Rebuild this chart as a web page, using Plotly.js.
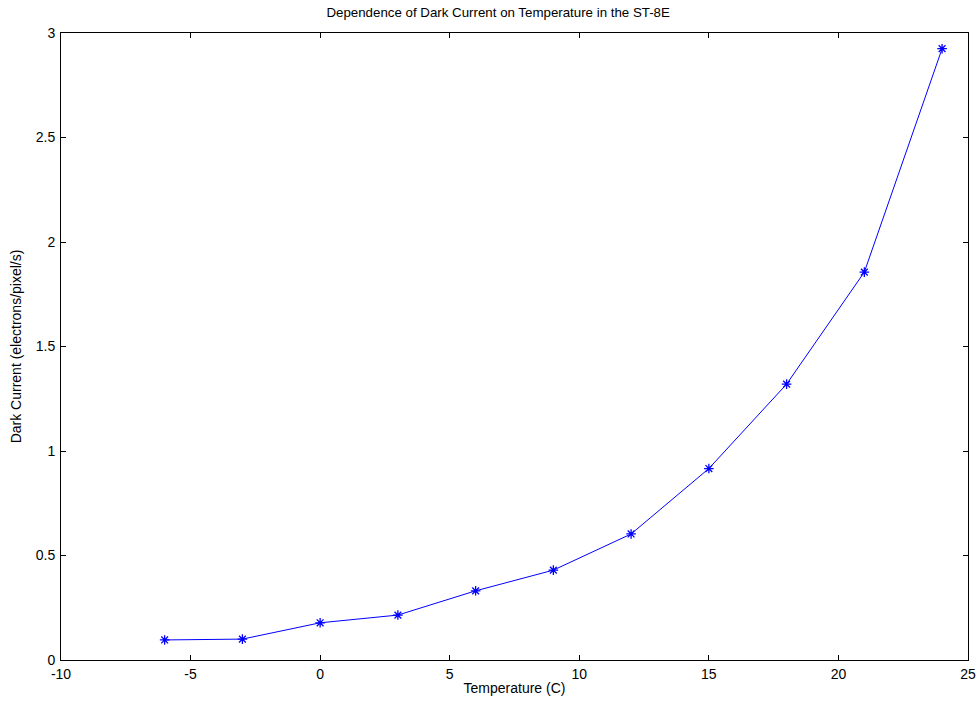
<!DOCTYPE html>
<html>
<head>
<meta charset="utf-8">
<script src="https://cdn.plot.ly/plotly-3.0.1.min.js"></script>
<style>html,body{margin:0;padding:0;background:#fff;}#chart{width:979px;height:706px;}</style>
</head>
<body>
<div id="chart"></div>
<script>
const temperature = [-6, -3, 0, 3, 6, 9, 12, 15, 18, 21, 24];
const darkCurrent = [0.096, 0.100, 0.178, 0.215, 0.331, 0.430, 0.603, 0.916, 1.320, 1.856, 2.925];
const xTicks = [-10, -5, 0, 5, 10, 15, 20, 25];
const yTicks = [0, 0.5, 1, 1.5, 2, 2.5, 3];
const yTickText = ['0', '0.5', '1', '1.5', '2', '2.5', '3'];

const font = {family: 'Liberation Sans, Arial, sans-serif', size: 14, color: '#000'};
const titleFont = {family: 'Liberation Sans, Arial, sans-serif', size: 13.3, color: '#000'};

const trace = {
  x: temperature,
  y: darkCurrent,
  mode: 'lines+markers',
  type: 'scatter',
  line: {color: '#0000ff', width: 1},
  marker: {symbol: 'asterisk-open', size: 8, color: '#0000ff', line: {color: '#0000ff', width: 1.3}},
  showlegend: false
};

const axisCommon = {
  showgrid: false, zeroline: false, showline: true, mirror: 'ticks',
  linecolor: '#000', linewidth: 1, ticks: 'inside', ticklen: 5, tickcolor: '#000',
  tickfont: font, automargin: false, fixedrange: true
};

const layout = {
  width: 979, height: 706,
  margin: {l: 61, r: 11, t: 33, b: 46},
  paper_bgcolor: '#fff', plot_bgcolor: '#fff',
  font: font,
  title: {text: 'Dependence of Dark Current on Temperature in the ST-8E', font: titleFont,
          x: 0.482, xref: 'paper', xanchor: 'center', y: 0.983, yref: 'container', yanchor: 'middle'},
  xaxis: Object.assign({}, axisCommon, {
    range: [-10, 25], tickvals: xTicks, ticktext: xTicks.map(String), ticklabelstandoff: 1,
    title: {text: 'Temperature (C)', font: font, standoff: 2}
  }),
  yaxis: Object.assign({}, axisCommon, {
    range: [0, 3], tickvals: yTicks, ticktext: yTickText, ticklabelstandoff: 2,
    title: {text: 'Dark Current (electrons/pixel/s)', font: font, standoff: 10}
  })
};

Plotly.newPlot('chart', [trace], layout, {displayModeBar: false, staticPlot: true});
</script>
</body>
</html>
